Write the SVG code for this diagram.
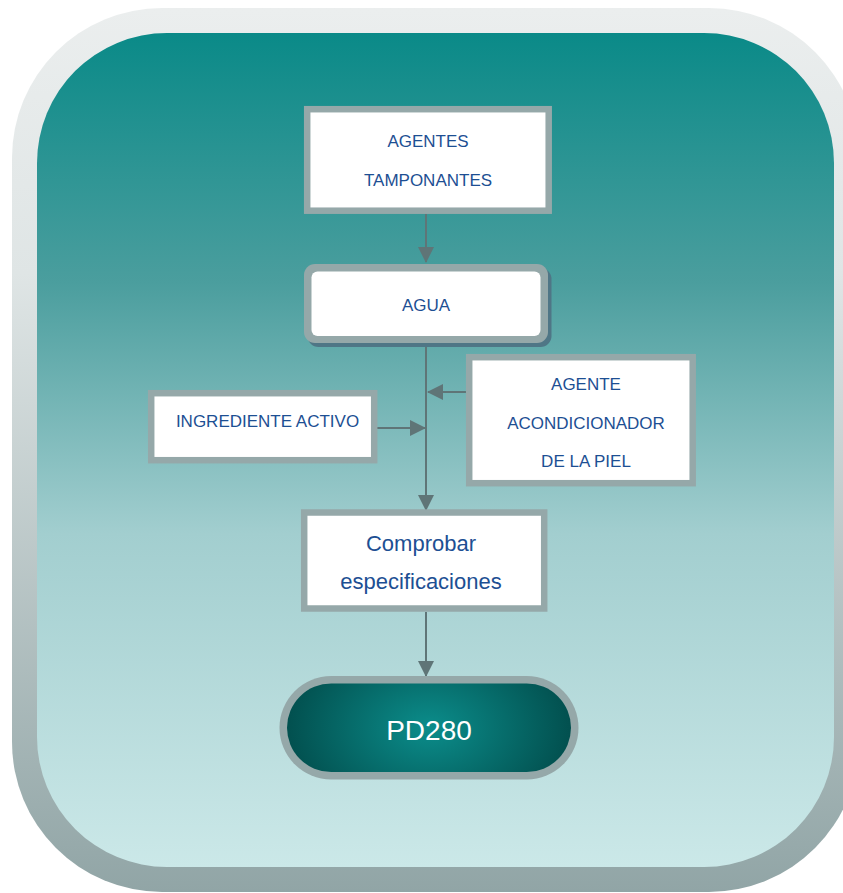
<svg xmlns="http://www.w3.org/2000/svg" width="843" height="893" viewBox="0 0 843 893">
<defs>
<linearGradient id="frameG" x1="0" y1="0" x2="0" y2="1">
<stop offset="0" stop-color="#ebeeee"/>
<stop offset="0.3" stop-color="#dfe5e5"/>
<stop offset="1" stop-color="#91a5a6"/>
</linearGradient>
<linearGradient id="panelG" x1="0" y1="0" x2="0" y2="1">
<stop offset="0" stop-color="#0a8a88"/>
<stop offset="0.3" stop-color="#4b9e9e"/>
<stop offset="0.6" stop-color="#a2cecf"/>
<stop offset="1" stop-color="#cbe8e8"/>
</linearGradient>
<radialGradient id="pillG" cx="0.5" cy="0.5" r="0.5" fx="0.5" fy="0.5" gradientTransform="translate(0.5 0.5) scale(1 2.2) translate(-0.5 -0.5)">
<stop offset="0" stop-color="#0b8d8b"/>
<stop offset="1" stop-color="#02504f"/>
</radialGradient>
<marker id="ah" viewBox="0 0 16 16" refX="15" refY="8" markerWidth="16" markerHeight="16" orient="auto" markerUnits="userSpaceOnUse">
<path d="M0,0 L16,8 L0,16 z" fill="#5f7577"/>
</marker>
</defs>
<style>
.box{fill:#ffffff;stroke:#95a8a9;stroke-width:6.5}
.lbl{font-family:"Liberation Sans",Arial,sans-serif;font-size:17px;fill:#1d4f93;text-anchor:middle}
.lbl2{font-family:"Liberation Sans",Arial,sans-serif;font-size:22px;fill:#1d4f93;text-anchor:middle}
.conn{stroke:#5f7577;stroke-width:2;fill:none;marker-end:url(#ah)}
</style>
<rect x="12" y="8" width="847" height="884" rx="150" ry="150" fill="url(#frameG)"/>
<rect x="37" y="33" width="797" height="834" rx="130" ry="130" fill="url(#panelG)"/>
<g id="connectors">
<path class="conn" d="M426,214 L426,262"/>
<path class="conn" d="M426,343 L426,510"/>
<path class="conn" d="M467,392 L428,392"/>
<path class="conn" d="M377,428 L425,428"/>
<path class="conn" d="M426,612 L426,676"/>
</g>
<g id="agentes-tamponantes">
<rect class="box" x="307.2" y="109.2" width="241.5" height="101.5"/>
<text class="lbl" x="428" y="147">AGENTES</text>
<text class="lbl" x="428" y="186">TAMPONANTES</text>
</g>
<g id="agua">
<rect x="307.5" y="268" width="244" height="79" rx="11" fill="#4f7686"/>
<rect x="304" y="264" width="244" height="79" rx="11" fill="#95a8a9"/>
<rect x="311.5" y="271.5" width="229" height="64.5" rx="6" fill="#ffffff"/>
<text class="lbl" x="426" y="311">AGUA</text>
</g>
<g id="ingrediente-activo">
<rect class="box" x="151.2" y="393.2" width="223" height="67"/>
<text class="lbl" x="267.5" y="426.5">INGREDIENTE ACTIVO</text>
</g>
<g id="agente-acondicionador">
<rect class="box" x="469.2" y="357.2" width="223.5" height="126"/>
<text class="lbl" x="586" y="390">AGENTE</text>
<text class="lbl" x="586" y="429">ACONDICIONADOR</text>
<text class="lbl" x="586" y="467">DE LA PIEL</text>
</g>
<g id="comprobar">
<rect class="box" x="304.2" y="512.5" width="240" height="96"/>
<text class="lbl2" x="421" y="551">Comprobar</text>
<text class="lbl2" x="421" y="589">especificaciones</text>
</g>
<g id="pd280">
<rect x="279.5" y="676" width="299" height="103.5" rx="51.75" fill="#95a8a9"/>
<rect x="287" y="683.5" width="284" height="88.5" rx="44.25" fill="url(#pillG)"/>
<text x="429" y="740" font-family="'Liberation Sans',Arial,sans-serif" font-size="28" fill="#ffffff" text-anchor="middle">PD280</text>
</g>
</svg>
